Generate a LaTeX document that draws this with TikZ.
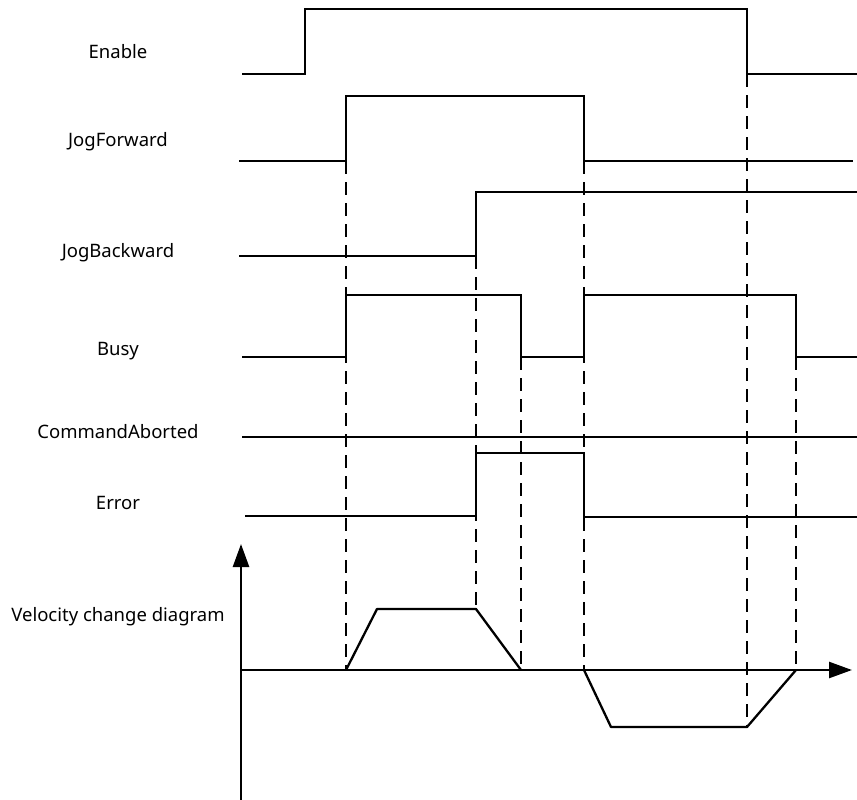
\documentclass[tikz,border=0pt]{standalone}
\usepackage{fontspec}
\setmainfont{Noto Sans}
\usetikzlibrary{arrows.meta}
\begin{document}
\begin{tikzpicture}[x=1pt,y=-1pt,
  sig/.style={line width=2.3pt, line join=miter},
  guide/.style={line width=1.8pt, dash pattern=on 13pt off 8pt},
  lbl/.style={font=\fontsize{18.5}{20}\selectfont, inner sep=0pt},
  axis/.style={line width=2.5pt, -{Triangle[length=23pt,width=16pt]}}]
\useasboundingbox (0,0) rectangle (857,800);
% labels
\node[lbl] (lEnable) at (118,52) {Enable};
\node[lbl] (lJF) at (118,142) {JogForward};
\node[lbl] (lJB) at (118,253) {JogBackward};
\node[lbl] (lBusy) at (118,351) {Busy};
\node[lbl] (lCA) at (118,432) {CommandAborted};
\node[lbl] (lErr) at (118,503) {Error};
\node[lbl] (lVel) at (118,617) {Velocity change diagram};
% key coordinates
\coordinate (enFall) at (747,74);
\coordinate (jfRise) at (346,161);
\coordinate (jfFall) at (584,161);
\coordinate (jbRise) at (476,256);
\coordinate (bsFall1) at (521,357);
\coordinate (bsFall2) at (796,357);
\coordinate (v0) at (346,670);
\coordinate (v1) at (476,609);
\coordinate (v2) at (521,670);
\coordinate (v3) at (584,670);
\coordinate (v4) at (747,727);
\coordinate (v5) at (796,670);
\coordinate (origin) at (241,670);
\coordinate (ytip) at (241,544);
\coordinate (ybot) at (241,800);
\coordinate (xtip) at (852,670);
% dashed guides
\draw[guide] (jfRise) -- (v0);
\draw[guide] (jbRise) -- (v1);
\draw[guide] (bsFall1) -- (v2);
\draw[guide] (jfFall) -- (v3);
\draw[guide] (enFall) -- (v4);
\draw[guide] (bsFall2) -- (v5);
% waveforms
\draw[sig] (242,74) -- (305,74) -- (305,9) -- (747,9) -- (enFall) -- (857,74);
\draw[sig] (239,161) -- (jfRise) -- (346,96) -- (584,96) -- (jfFall) -- (853,161);
\draw[sig] (239,256) -- (jbRise) -- (476,192) -- (857,192);
\draw[sig] (242,357) -- (346,357) -- (346,295) -- (521,295) -- (bsFall1) -- (584,357) -- (584,295) -- (796,295) -- (bsFall2) -- (857,357);
\draw[sig] (242,437) -- (857,437);
\draw[sig] (245,516) -- (476,516) -- (476,453) -- (584,453) -- (584,517) -- (857,517);
% velocity axes
\draw[axis] (ybot) -- (ytip);
\draw[axis] (origin) -- (xtip);
\draw[sig, line join=round] (v0) -- (377,609) -- (v1) -- (v2);
\draw[sig, line join=round] (v3) -- (611,727) -- (v4) -- (v5);
\end{tikzpicture}
\end{document}
